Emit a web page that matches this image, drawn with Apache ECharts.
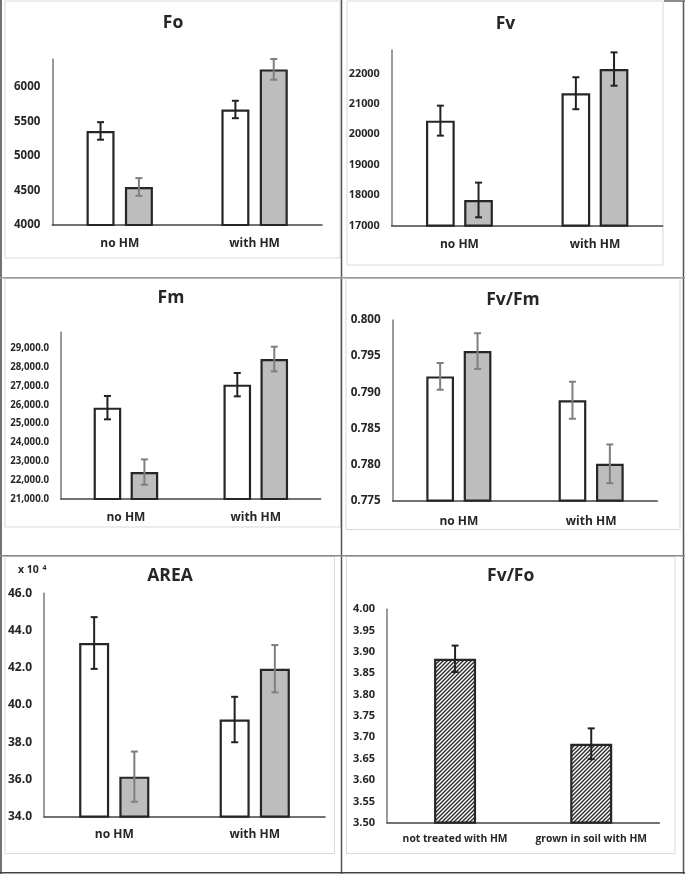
<!DOCTYPE html>
<html><head><meta charset="utf-8">
<script src="https://cdn.jsdelivr.net/npm/echarts@6/dist/echarts.min.js"></script>
<style>html,body{margin:0;padding:0;background:#fff}#c{width:685px;height:874px}</style>
</head><body><div id="c"></div>
<script>
// ---------------- DATA ----------------
const categories = ['no HM', 'with HM'];

const foWhite = [5360, 5670];
const foWhiteErr = [127, 126];
const foGray = [4550, 6250];
const foGrayErr = [128, 150];
const foTicks = [4000, 4500, 5000, 5500, 6000];

const fvWhite = [20450, 21350];
const fvWhiteErr = [492, 525];
const fvGray = [17845, 22145];
const fvGrayErr = [570, 547];
const fvTicks = [17000, 18000, 19000, 20000, 21000, 22000];

const fmWhite = [25850, 27070];
const fmWhiteErr = [620, 620];
const fmGray = [22430, 28430];
const fmGrayErr = [672, 655];
const fmTicks = [21000, 22000, 23000, 24000, 25000, 26000, 27000, 28000, 29000];

const fvfmWhite = [0.7922, 0.7889];
const fvfmWhiteErr = [0.00185, 0.00256];
const fvfmGray = [0.7957, 0.7801];
const fvfmGrayErr = [0.00247, 0.00268];
const fvfmTicks = [0.775, 0.780, 0.785, 0.790, 0.795, 0.800];

const areaWhite = [43.33, 39.22];
const areaWhiteErr = [1.39, 1.22];
const areaGray = [36.15, 41.95];
const areaGrayErr = [1.35, 1.27];
const areaTicks = [34, 36, 38, 40, 42, 44, 46];

const fvfoCategories = ['not treated with HM', 'grown in soil with HM'];
const fvfoValues = [3.884, 3.685];
const fvfoErr = [0.031, 0.036];
const fvfoTicks = [3.50, 3.55, 3.60, 3.65, 3.70, 3.75, 3.80, 3.85, 3.90, 3.95, 4.00];

// ---------------- STYLE / LAYOUT ----------------
const FONT = '"Open Sans"';
const BLACK_ERR = '#222222';
const GRAY_ERR = '#7f7f7f';
const GRAY_FILL = '#bdbdbd';
const OUTLINE = '#262626';

function hatch() {
  const c = document.createElement('canvas');
  c.width = 4; c.height = 4;
  const g = c.getContext('2d');
  g.fillStyle = '#ffffff'; g.fillRect(0, 0, 4, 4);
  g.strokeStyle = '#2a2a2a'; g.lineWidth = 1.4;
  g.beginPath();
  g.moveTo(-1, 5); g.lineTo(5, -1);
  g.moveTo(-1, 1); g.lineTo(1, -1);
  g.moveTo(3, 5); g.lineTo(5, 3);
  g.stroke();
  return c;
}

function fmtComma(v) {
  return v.toLocaleString('en-US', {minimumFractionDigits: 1, maximumFractionDigits: 1});
}

const panels = [
  {title: 'Fo', tx: 173, ty: 23, l: 52.3, r: 322, t: 59, b: 225, min: 4000, max: 6400, interval: 500,
   ticks: foTicks, fmt: v => String(v), ls: 11.5, cats: categories, catMargin: 12.5,
   series: [{v: foWhite, e: foWhiteErr, fill: '#ffffff', ec: BLACK_ERR}, {v: foGray, e: foGrayErr, fill: GRAY_FILL, ec: GRAY_ERR}],
   bw: 28, gap: 0.37},
  {title: 'Fv', tx: 505.5, ty: 24.5, l: 391.7, r: 662.7, t: 50, b: 225.7, min: 17000, max: 22770, interval: 1000,
   ticks: fvTicks, fmt: v => String(v), ls: 10.8, cats: categories, catMargin: 13,
   series: [{v: fvWhite, e: fvWhiteErr, fill: '#ffffff', ec: BLACK_ERR}, {v: fvGray, e: fvGrayErr, fill: GRAY_FILL, ec: BLACK_ERR}],
   bw: 28.7, gap: 0.33},
  {title: 'Fm', tx: 171, ty: 298, l: 61, r: 320.7, t: 332.3, b: 499, min: 21000, max: 29850, interval: 1000,
   ticks: fmTicks, fmt: fmtComma, ls: 9.7, cats: categories, catMargin: 12.5,
   series: [{v: fmWhite, e: fmWhiteErr, fill: '#ffffff', ec: BLACK_ERR}, {v: fmGray, e: fmGrayErr, fill: GRAY_FILL, ec: GRAY_ERR}],
   bw: 27.6, gap: 0.34},
  {title: 'Fv/Fm', tx: 513, ty: 300.5, l: 392.7, r: 657.3, t: 320, b: 500.7, min: 0.775, max: 0.800, interval: 0.005,
   ticks: fvfmTicks, fmt: v => v.toFixed(3), ls: 11.7, cats: categories, catMargin: 15,
   series: [{v: fvfmWhite, e: fvfmWhiteErr, fill: '#ffffff', ec: GRAY_ERR}, {v: fvfmGray, e: fvfmGrayErr, fill: GRAY_FILL, ec: GRAY_ERR}],
   bw: 27.7, gap: 0.35},
  {title: 'AREA', tx: 170, ty: 576, l: 44, r: 325, t: 593.3, b: 816.7, min: 34, max: 46, interval: 2,
   ticks: areaTicks, fmt: v => v.toFixed(1), ls: 12, cats: categories, catMargin: 12,
   series: [{v: areaWhite, e: areaWhiteErr, fill: '#ffffff', ec: BLACK_ERR}, {v: areaGray, e: areaGrayErr, fill: GRAY_FILL, ec: GRAY_ERR}],
   bw: 30, gap: 0.34},
  {title: 'Fv/Fo', tx: 510.7, ty: 576.5, l: 387, r: 659.3, t: 609.3, b: 822.7, min: 3.5, max: 4.0, interval: 0.05,
   ticks: fvfoTicks, fmt: v => v.toFixed(2), ls: 11, cats: fvfoCategories, catMargin: 11, catSize: 10.3,
   series: [{v: fvfoValues, e: fvfoErr, fill: 'HATCH', ec: BLACK_ERR}],
   bw: 42, gap: 0}
];

function errRender(offset, color) {
  return function (params, api) {
    const i = api.value(0), v = api.value(1), e = api.value(2);
    const hi = api.coord([i, v + e]);
    const lo = api.coord([i, v - e]);
    const x = hi[0] + offset;
    const cap = 3.5;
    const style = {stroke: color, lineWidth: 2};
    return {type: 'group', children: [
      {type: 'line', shape: {x1: x, y1: hi[1], x2: x, y2: lo[1]}, style: style},
      {type: 'line', shape: {x1: x - cap, y1: hi[1], x2: x + cap, y2: hi[1]}, style: style},
      {type: 'line', shape: {x1: x - cap, y1: lo[1], x2: x + cap, y2: lo[1]}, style: style}
    ]};
  };
}

const grid = [], xAxis = [], yAxis = [], series = [], title = [];
const hatchCanvas = hatch();

panels.forEach((p, k) => {
  grid.push({left: p.l, top: p.t, width: p.r - p.l, height: p.b - p.t, outerBoundsMode: 'none', containLabel: false});
  title.push({text: p.title, left: p.tx, top: p.ty - 9, textAlign: 'center', padding: 0,
    textStyle: {fontFamily: FONT, fontSize: 17.5, fontWeight: 'bold', color: '#262626'}});
  xAxis.push({type: 'category', gridIndex: k, data: p.cats,
    axisLine: {lineStyle: {color: '#444', width: 1.5}}, axisTick: {show: false},
    axisLabel: {interval: 0, fontFamily: FONT, fontWeight: 'bold', fontSize: p.catSize || 12, color: '#262626', margin: p.catMargin}});
  const ticks = p.ticks;
  yAxis.push({type: 'value', gridIndex: k, min: p.min, max: p.max, interval: p.interval,
    axisLine: {show: true, lineStyle: {color: '#7a7a7a', width: 1.5}}, axisTick: {show: false}, splitLine: {show: false},
    axisLabel: {fontFamily: FONT, fontWeight: 'bold', fontSize: p.ls, color: '#262626', margin: 12,
      padding: [4, 0, 0, 0], showMaxLabel: true,
      formatter: v => ticks.some(t => Math.abs(t - v) < p.interval * 1e-3) ? p.fmt(v) : ''}});
  const n = p.series.length;
  p.series.forEach((s, j) => {
    series.push({type: 'bar', xAxisIndex: k, yAxisIndex: k, data: s.v, barWidth: p.bw, barGap: (p.gap * 100) + '%',
      itemStyle: {color: s.fill === 'HATCH' ? {image: hatchCanvas, repeat: 'repeat'} : s.fill, borderColor: OUTLINE, borderWidth: 2.2},
      emphasis: {disabled: true}, z: 2});
    const offset = n === 1 ? 0 : (j === 0 ? -1 : 1) * p.bw * (1 + p.gap) / 2;
    series.push({type: 'custom', xAxisIndex: k, yAxisIndex: k, z: 5,
      data: s.v.map((v, i) => [i, v, s.e[i]]), encode: {x: 0, y: 1},
      renderItem: errRender(offset, s.ec)});
  });
});

// panel frames and table lines (decoration)
const frames = [[5, 1, 340, 258], [347, 1, 663, 265], [5, 278.5, 340.5, 527], [346, 278.5, 680, 529.5], [5, 556.5, 334.5, 853.5], [346.5, 556.5, 675, 853.5]];
const graphic = frames.map(f => ({type: 'rect', shape: {x: f[0], y: f[1], width: f[2] - f[0], height: f[3] - f[1]},
  style: {fill: 'none', stroke: '#d9d9d9', lineWidth: 1}, z: 0, silent: true}));
const lines = [
  [1, 0, 1, 874, '#444'], [341.5, 0, 341.5, 874, '#555'], [683.5, 1, 683.5, 874, '#555'],
  [0, 277.7, 685, 277.7, '#9a9a9a'], [0, 555.7, 685, 555.7, '#8a8a8a'], [0, 872.8, 685, 872.8, '#444'], [664, 1, 685, 1, '#666']
];
lines.forEach(L => graphic.push({type: 'line', shape: {x1: L[0], y1: L[1], x2: L[2], y2: L[3]},
  style: {stroke: L[4], lineWidth: 1.5}, z: 1, silent: true}));
graphic.push({type: 'text', left: 18, top: 564, silent: true,
  style: {text: 'x 10 {s|4}', fontFamily: FONT, fontSize: 10.5, fontWeight: 'bold', fill: '#262626',
    rich: {s: {fontFamily: FONT, fontSize: 7, fontWeight: 'bold', verticalAlign: 'top', padding: [0, 0, 6, 1]}}}});

const chart = echarts.init(document.getElementById('c'), null, {renderer: 'canvas'});
chart.setOption({backgroundColor: '#ffffff', animation: false, title, grid, xAxis, yAxis, series, graphic});
</script></body></html>
